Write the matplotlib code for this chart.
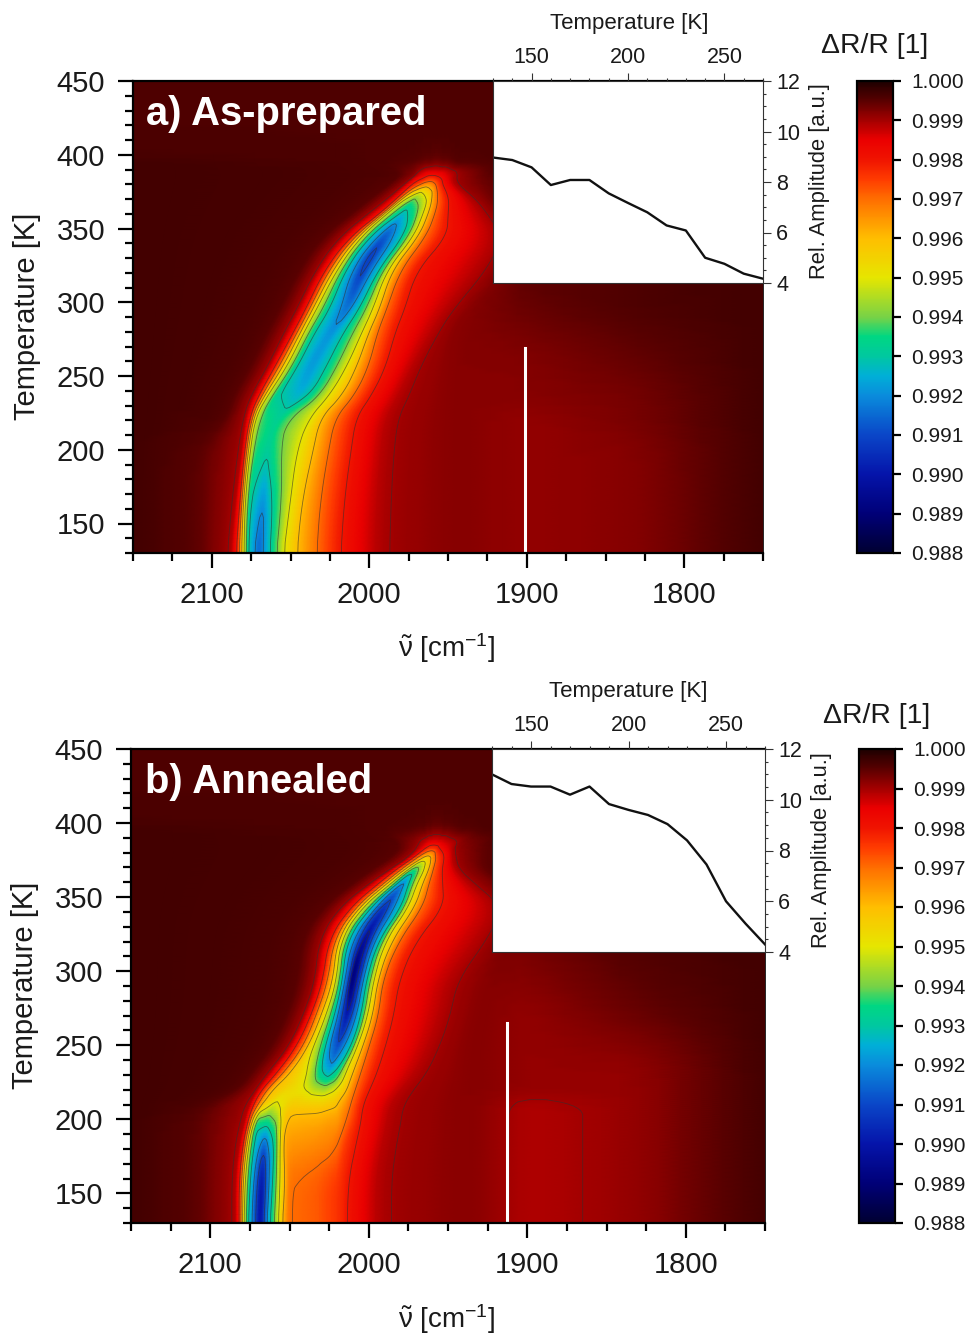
import numpy as np
import matplotlib
matplotlib.use("Agg")
import matplotlib.pyplot as plt
from matplotlib.colors import LinearSegmentedColormap, Normalize
from matplotlib.ticker import MultipleLocator

plt.rcParams["font.family"] = ["Liberation Sans", "DejaVu Sans"]
plt.rcParams["mathtext.fontset"] = "stix"
plt.rcParams["mathtext.default"] = "regular"

# =========================
# 1) Data
# Each row of wn_* holds the wavenumbers of the knots at one temperature,
# the same row of dr_* holds dR/R at those knots (in units of 1e-4)
# =========================
temp_a = [130, 165, 200, 222, 236, 256, 279, 296, 322, 344, 360, 371, 381, 388, 394, 402, 450]
wn_a = [
    [2150, 2110, 2088.4, 2084.2, 2079.5, 2076.8, 2070.4, 2063.0, 2054.6, 2046.0, 2033.4, 2018.6, 1992.0, 1945, 1900, 1830, 1750],
    [2150, 2110, 2085.3, 2082.0, 2079.0, 2075.7, 2067.3, 2061.3, 2050.3, 2043.0, 2031.3, 2016.5, 1991.0, 1945, 1900, 1830, 1750],
    [2150, 2110, 2081.0, 2079.0, 2075.7, 2072.5, 2065.0, 2059.9, 2046.0, 2035.5, 2026.0, 2012.0, 1989.0, 1945, 1900, 1830, 1750],
    [2150, 2093, 2079.0, 2075.7, 2072.5, 2068.3, 2058.8, 2054.6, 2037.6, 2031.3, 2021.8, 2009.0, 1985.8, 1945, 1900, 1830, 1750],
    [2150, 2089, 2074.7, 2070.4, 2065.2, 2058.8, 2044.0, 2037.6, 2026.0, 2017.5, 2010.0, 1999.6, 1978.4, 1945, 1900, 1830, 1750],
    [2150, 2078, 2064.0, 2059.9, 2052.5, 2046.0, 2037.6, 2027.0, 2014.4, 2008.0, 2000.6, 1990.0, 1970.0, 1945, 1900, 1830, 1750],
    [2150, 2068, 2053.5, 2048.2, 2041.9, 2035.5, 2025.0, 2016.5, 2004.8, 2000.6, 1995.3, 1984.7, 1957.0, 1945, 1900, 1830, 1750],
    [2150, 2059, 2045.0, 2039.8, 2033.4, 2025.0, 2013.3, 2005.9, 1997.4, 1993.2, 1989.0, 1978.4, 1946.7, 1935, 1900, 1830, 1750],
    [2150, 2047, 2033.4, 2028.1, 2020.7, 2015.4, 2004.8, 1994.3, 1989.0, 1985.8, 1980.5, 1972.0, 1925.5, 1910, 1900, 1830, 1750],
    [2150, 2033, 2018.6, 2012.3, 2005.9, 2000.6, 1991.0, 1978.4, 1972.0, 1968.9, 1964.6, 1952.0, 1915.0, 1908, 1900, 1830, 1750],
    [2150, 2014, 2000.0, 1993.0, 1989.0, 1983.7, 1978.4, 1971.0, 1965.7, 1962.5, 1958.3, 1950.9, 1925.5, 1912, 1900, 1830, 1750],
    [2150, 2001, 1986.9, 1981.6, 1976.3, 1973.0, 1971.0, 1967.8, 1962.5, 1959.8, 1956.2, 1949.8, 1934.0, 1920, 1900, 1830, 1750],
    [2150, 1988, 1976.3, 1972.0, 1967.0, 1964.0, 1961.0, 1959.0, 1957.5, 1956.0, 1955.0, 1954.0, 1946.6, 1925, 1900, 1830, 1750],
    [2150, 1982, 1970.0, 1966.0, 1964.0, 1962.0, 1960.0, 1958.0, 1956.0, 1954.0, 1952.0, 1949.0, 1944.0, 1925, 1900, 1830, 1750],
    [2150, 1995, 1975.0, 1968.0, 1964.0, 1961.0, 1958.0, 1956.0, 1953.0, 1950.0, 1947.0, 1943.0, 1935.0, 1915, 1900, 1830, 1750],
    [2150, 1995, 1975.0, 1968.0, 1964.0, 1961.0, 1958.0, 1956.0, 1953.0, 1950.0, 1947.0, 1943.0, 1935.0, 1915, 1900, 1830, 1750],
    [2150, 1995, 1975.0, 1968.0, 1964.0, 1961.0, 1958.0, 1956.0, 1953.0, 1950.0, 1947.0, 1943.0, 1935.0, 1915, 1900, 1830, 1750],
]
dr_a = [
    [9997, 9995, 9990, 9980, 9950, 9930, 9913, 9930, 9950, 9960, 9970, 9980, 9990, 9992, 9991, 9992, 9997],
    [9997, 9995, 9990, 9980, 9950, 9930, 9920, 9930, 9950, 9960, 9970, 9980, 9990, 9992, 9991, 9992, 9997],
    [9997, 9995, 9990, 9980, 9950, 9937, 9932, 9937, 9950, 9960, 9970, 9980, 9990, 9992, 9991, 9992, 9997],
    [9997, 9996, 9990, 9980, 9950, 9938, 9933, 9938, 9950, 9960, 9970, 9980, 9990, 9992, 9991, 9993, 9997],
    [9997, 9996, 9990, 9980, 9950, 9930, 9925, 9930, 9950, 9960, 9970, 9980, 9990, 9992, 9992, 9993, 9997],
    [9997, 9996, 9990, 9980, 9950, 9930, 9921, 9930, 9950, 9960, 9970, 9980, 9990, 9992, 9992, 9994, 9997],
    [9997, 9996, 9990, 9980, 9950, 9930, 9921, 9930, 9950, 9960, 9970, 9980, 9990, 9992, 9993, 9995, 9997],
    [9997, 9996, 9990, 9980, 9950, 9930, 9915, 9930, 9950, 9960, 9970, 9980, 9990, 9992, 9994, 9996, 9997],
    [9997, 9996, 9990, 9980, 9950, 9930, 9905, 9930, 9950, 9960, 9970, 9980, 9990, 9993, 9995, 9996, 9997],
    [9997, 9996, 9990, 9980, 9950, 9930, 9908, 9930, 9950, 9960, 9970, 9980, 9990, 9993, 9995, 9996, 9997],
    [9997, 9996, 9990, 9980, 9950, 9935, 9926, 9935, 9950, 9960, 9970, 9980, 9990, 9993, 9995, 9996, 9997],
    [9997, 9996, 9990, 9980, 9950, 9943, 9939, 9943, 9950, 9960, 9970, 9980, 9990, 9994, 9995, 9996, 9997],
    [9997, 9996, 9990, 9980, 9975, 9970, 9968, 9969, 9972, 9975, 9977, 9980, 9990, 9994, 9995, 9996, 9997],
    [9997, 9996, 9992, 9988, 9986, 9985, 9985, 9985, 9985, 9985, 9986, 9988, 9990, 9995, 9995, 9996, 9997],
    [9997, 9996, 9995, 9994, 9993, 9993, 9992, 9992, 9993, 9993, 9994, 9995, 9995, 9996, 9996, 9996, 9997],
    [9996, 9996, 9996, 9996, 9996, 9996, 9996, 9996, 9996, 9996, 9996, 9996, 9996, 9996, 9996, 9996, 9996],
    [9996, 9996, 9996, 9996, 9996, 9996, 9996, 9996, 9996, 9996, 9996, 9996, 9996, 9996, 9996, 9996, 9996],
]

temp_b = [130, 159, 181, 197, 209, 220, 231, 249, 271, 294, 321, 343, 359, 369, 378, 386, 394, 404, 450]
wn_b = [
    [2150, 2110, 2084.4, 2081.6, 2078.7, 2076.0, 2068.6, 2062.3, 2057.0, 2054.5, 2050.3, 2032.9, 2026.6, 2020.2, 2016.0, 2013.9, 1991.9, 1935, 1900, 1830, 1750],
    [2150, 2110, 2084.4, 2081.6, 2078.1, 2074.9, 2067.6, 2060.6, 2056.0, 2052.8, 2049.3, 2032.9, 2026.6, 2020.2, 2016.0, 2012.9, 1991.9, 1935, 1900, 1830, 1750],
    [2150, 2110, 2082.3, 2079.5, 2076.0, 2072.8, 2066.1, 2059.8, 2056.0, 2053.9, 2050.7, 2032.9, 2025.5, 2020.2, 2016.0, 2008.7, 1988.7, 1935, 1900, 1830, 1750],
    [2150, 2110, 2079.1, 2076.6, 2073.2, 2070.3, 2064.4, 2059.2, 2055.4, 2053.5, 2050.7, 2032.9, 2018.1, 2015.0, 2009.7, 2005.5, 1985.5, 1935, 1900, 1830, 1750],
    [2150, 2110, 2076.0, 2073.2, 2070.3, 2067.6, 2061.3, 2056.0, 2052.8, 2049.7, 2045.5, 2030.8, 2021.3, 2016.0, 2011.8, 2004.5, 1983.4, 1935, 1900, 1830, 1750],
    [2150, 2085, 2070.7, 2067.6, 2064.4, 2061.3, 2051.8, 2045.5, 2039.2, 2036.0, 2031.8, 2027.6, 2022.3, 2013.9, 2008.7, 2000.3, 1976.0, 1935, 1900, 1830, 1750],
    [2150, 2077, 2063.4, 2058.1, 2053.9, 2049.7, 2043.4, 2038.1, 2033.9, 2029.7, 2027.6, 2025.5, 2021.3, 2015.0, 2005.5, 1996.0, 1966.6, 1935, 1900, 1830, 1750],
    [2150, 2064, 2049.7, 2045.5, 2041.3, 2038.1, 2035.0, 2030.8, 2027.6, 2024.9, 2022.8, 2019.2, 2010.8, 2007.2, 2000.3, 1990.8, 1957.2, 1935, 1900, 1830, 1750],
    [2150, 2054, 2040.2, 2036.0, 2032.9, 2029.7, 2026.6, 2024.0, 2021.3, 2019.2, 2016.5, 2012.9, 2004.5, 2000.3, 1994.0, 1985.5, 1949.8, 1930, 1900, 1830, 1750],
    [2150, 2047, 2032.9, 2028.7, 2025.5, 2022.3, 2020.2, 2018.1, 2016.5, 2015.0, 2012.9, 2010.8, 2001.7, 1997.1, 1991.9, 1982.4, 1945.6, 1925, 1900, 1830, 1750],
    [2150, 2045, 2030.8, 2025.5, 2022.3, 2020.2, 2018.1, 2016.0, 2013.9, 2010.8, 2007.6, 2003.4, 1994.0, 1989.7, 1981.3, 1971.9, 1925.6, 1910, 1900, 1830, 1750],
    [2150, 2032, 2018.1, 2011.8, 2008.7, 2006.6, 2004.5, 2001.3, 1999.2, 1996.0, 1994.0, 1989.7, 1979.2, 1975.0, 1966.6, 1954.0, 1915.1, 1908, 1900, 1830, 1750],
    [2150, 2013, 1999.2, 1994.0, 1990.8, 1988.7, 1986.2, 1984.1, 1982.4, 1980.7, 1979.2, 1977.8, 1975.0, 1969.8, 1962.4, 1954.0, 1934.0, 1910, 1900, 1830, 1750],
    [2150, 2000, 1985.5, 1982.4, 1979.2, 1977.1, 1975.0, 1973.6, 1972.3, 1971.4, 1970.6, 1969.8, 1968.1, 1964.5, 1959.3, 1954.0, 1944.5, 1925, 1900, 1830, 1750],
    [2150, 1987, 1972.9, 1969.8, 1967.7, 1965.6, 1964.1, 1963.0, 1962.2, 1961.4, 1960.5, 1959.7, 1958.6, 1957.6, 1955.5, 1951.9, 1946.6, 1925, 1900, 1830, 1750],
    [2150, 1982, 1967.7, 1963.5, 1961.4, 1960.3, 1959.7, 1959.3, 1958.6, 1958.2, 1957.6, 1957.2, 1956.1, 1955.0, 1953.0, 1949.8, 1944.5, 1925, 1900, 1830, 1750],
    [2150, 1995, 1975.0, 1968.0, 1965.0, 1963.0, 1961.0, 1959.0, 1958.0, 1956.0, 1954.0, 1952.0, 1949.0, 1945.0, 1940.0, 1935.0, 1925.0, 1912, 1900, 1830, 1750],
    [2150, 1995, 1975.0, 1968.0, 1965.0, 1963.0, 1961.0, 1959.0, 1958.0, 1956.0, 1954.0, 1952.0, 1949.0, 1945.0, 1940.0, 1935.0, 1925.0, 1912, 1900, 1830, 1750],
    [2150, 1995, 1975.0, 1968.0, 1965.0, 1963.0, 1961.0, 1959.0, 1958.0, 1956.0, 1954.0, 1952.0, 1949.0, 1945.0, 1940.0, 1935.0, 1925.0, 1912, 1900, 1830, 1750],
]
dr_b = [
    [9997, 9995, 9990, 9980, 9950, 9930, 9897, 9930, 9950, 9960, 9970, 9972, 9974, 9976, 9978, 9980, 9990, 9992, 9989, 9991, 9997],
    [9997, 9995, 9990, 9980, 9950, 9930, 9897, 9930, 9950, 9960, 9970, 9972, 9974, 9976, 9978, 9980, 9990, 9992, 9989, 9991, 9997],
    [9997, 9995, 9990, 9980, 9950, 9930, 9910, 9930, 9950, 9960, 9965, 9967, 9968, 9970, 9975, 9980, 9990, 9992, 9989, 9991, 9997],
    [9997, 9995, 9990, 9980, 9950, 9930, 9932, 9938, 9950, 9958, 9962, 9963, 9966, 9970, 9976, 9980, 9990, 9992, 9989, 9991, 9997],
    [9997, 9996, 9990, 9980, 9970, 9960, 9948, 9953, 9957, 9958, 9958, 9958, 9960, 9965, 9970, 9980, 9990, 9992, 9989, 9991, 9997],
    [9997, 9996, 9990, 9980, 9970, 9960, 9955, 9953, 9951, 9950, 9947, 9945, 9950, 9960, 9970, 9980, 9990, 9992, 9991, 9991, 9997],
    [9997, 9996, 9990, 9980, 9970, 9960, 9955, 9950, 9940, 9930, 9927, 9925, 9930, 9950, 9970, 9980, 9990, 9992, 9991, 9991, 9997],
    [9997, 9996, 9990, 9980, 9970, 9960, 9950, 9940, 9930, 9920, 9915, 9910, 9930, 9950, 9970, 9980, 9990, 9992, 9991, 9992, 9997],
    [9997, 9996, 9990, 9980, 9970, 9960, 9950, 9940, 9930, 9920, 9910, 9900, 9930, 9950, 9970, 9980, 9990, 9992, 9991, 9994, 9997],
    [9997, 9996, 9990, 9980, 9970, 9960, 9950, 9940, 9930, 9920, 9910, 9885, 9930, 9950, 9970, 9980, 9990, 9992, 9992, 9995, 9997],
    [9997, 9996, 9990, 9980, 9970, 9960, 9950, 9940, 9930, 9920, 9910, 9895, 9930, 9950, 9970, 9980, 9990, 9993, 9993, 9996, 9997],
    [9997, 9996, 9990, 9980, 9970, 9960, 9950, 9940, 9930, 9920, 9910, 9905, 9930, 9950, 9970, 9980, 9990, 9993, 9994, 9996, 9997],
    [9997, 9996, 9990, 9980, 9970, 9960, 9950, 9940, 9930, 9922, 9919, 9918, 9930, 9950, 9970, 9980, 9990, 9995, 9995, 9996, 9997],
    [9997, 9996, 9990, 9980, 9970, 9960, 9950, 9940, 9937, 9936, 9936, 9937, 9940, 9950, 9970, 9980, 9990, 9995, 9995, 9996, 9997],
    [9997, 9996, 9990, 9980, 9970, 9965, 9962, 9961, 9960, 9960, 9961, 9962, 9965, 9970, 9975, 9980, 9990, 9995, 9995, 9996, 9997],
    [9997, 9996, 9990, 9987, 9985, 9984, 9984, 9984, 9984, 9984, 9984, 9984, 9984, 9985, 9986, 9988, 9991, 9995, 9995, 9996, 9997],
    [9997, 9996, 9995, 9994, 9994, 9993, 9993, 9992, 9992, 9992, 9992, 9993, 9993, 9994, 9995, 9995, 9996, 9996, 9996, 9996, 9997],
    [9996, 9996, 9996, 9996, 9996, 9996, 9996, 9996, 9996, 9996, 9996, 9996, 9996, 9996, 9996, 9996, 9996, 9996, 9996, 9996, 9996],
    [9996, 9996, 9996, 9996, 9996, 9996, 9996, 9996, 9996, 9996, 9996, 9996, 9996, 9996, 9996, 9996, 9996, 9996, 9996, 9996, 9996],
]

inset_temp = [130, 140, 150, 160, 170, 180, 190, 200, 210, 220, 230, 240, 250, 260, 270]
amp_a = [8.97, 8.87, 8.58, 7.88, 8.08, 8.08, 7.55, 7.17, 6.80, 6.28, 6.08, 5.00, 4.76, 4.37, 4.17]
amp_b = [11.0, 10.62, 10.52, 10.52, 10.2, 10.52, 9.83, 9.6, 9.4, 9.04, 8.4, 7.45, 6.0, 5.12, 4.3]

white_line_a = (1901, 269)
white_line_b = (1913, 265)

# colour scale of the bars
cbar_vals = [988, 989, 990, 991, 992, 992.5, 993, 993.5, 994, 995, 996, 997, 997.5, 998, 998.5, 999, 999.5, 1000]
cbar_cols = ["#000032", "#000078", "#0514aa", "#0a46c8", "#0a8cdc", "#00afd7", "#00c8a0", "#00d782", "#78d246",
             "#e6e600", "#ffbe00", "#ff6e00", "#ff3c00", "#f01400", "#eb0000", "#a50000", "#5a0000", "#1e0000"]

# =========================
# 2) Figure and layout in pixels
# =========================
W, H = 969, 1334
fig = plt.figure(figsize=(W / 100, H / 100), dpi=100)


def px_axes(left, top, right, bottom):
    return fig.add_axes([left / W, 1 - bottom / H, (right - left) / W, (bottom - top) / H])


def px_text(x, y, s, **kw):
    fig.text(x / W, 1 - y / H, s, ha="center", va="center", color="#1a1a1a", **kw)


def soften(a, row_sub=8, col_sub=6):
    # finer mesh between the knots so the map does not show straight facets
    a = np.asarray(a, dtype=float)
    rows = np.arange(a.shape[0])
    cols = np.arange(a.shape[1])
    fine_r = np.linspace(0, rows[-1], (len(rows) - 1) * row_sub + 1)
    fine_c = np.linspace(0, cols[-1], (len(cols) - 1) * col_sub + 1)
    a = np.array([np.interp(fine_r, rows, a[:, j]) for j in cols]).T
    a = np.array([np.interp(fine_c, cols, line) for line in a])
    box_r = np.ones(row_sub + 1) / (row_sub + 1)
    box_c = np.ones(3) / 3
    a = np.pad(a, ((row_sub // 2, row_sub // 2), (1, 1)), mode="edge")
    a = np.array([np.convolve(a[:, j], box_r, mode="valid") for j in range(a.shape[1])]).T
    a = np.array([np.convolve(line, box_c, mode="valid") for line in a])
    return a


norm = Normalize(0.988, 1.0)
stops = [(v - 988) / 12 for v in cbar_vals]
cmap = LinearSegmentedColormap.from_list("dr", list(zip(stops, cbar_cols)), N=512)
contour_levels = np.arange(989, 1000) / 1000


def draw_panel(temps, wn, dr, amp, line, title, main_box, inset_box, bar_box, title_xy,
               ylabel_x, xlabel_xy, intop_xy, inright_xy, barlabel_xy):
    # main map
    ax = px_axes(*main_box)
    wn_arr = np.array(wn, dtype=float)
    X = soften(wn_arr)
    Y = soften(np.repeat(np.array(temps, dtype=float)[:, None], wn_arr.shape[1], axis=1))
    Z = soften(dr) / 10000
    X[:, 0], X[:, -1] = 2150, 1750
    Y[0, :], Y[-1, :] = 130, 450
    mesh = ax.pcolormesh(X, Y, Z, shading="gouraud", cmap=cmap, norm=norm)
    ax.contour(X, Y, Z, levels=contour_levels, colors="#303030", linewidths=0.6, alpha=0.6)
    ax.plot([line[0], line[0]], [130, line[1]], color="white", lw=2.2)
    ax.set_xlim(2150, 1750)
    ax.set_ylim(130, 450)
    ax.xaxis.set_major_locator(MultipleLocator(100))
    ax.xaxis.set_minor_locator(MultipleLocator(25))
    ax.yaxis.set_major_locator(MultipleLocator(50))
    ax.yaxis.set_minor_locator(MultipleLocator(10))
    ax.tick_params(which="major", length=11, width=1.6, labelsize=21, pad=9, labelcolor="#1a1a1a")
    ax.tick_params(which="minor", length=5.5, width=1.6)
    for name in ["left", "bottom", "top"]:
        ax.spines[name].set_linewidth(1.6)
    ax.spines["right"].set_linewidth(0.6)
    fig.text(title_xy[0] / W, 1 - title_xy[1] / H, title, color="white", fontsize=28.8,
             fontweight="bold", ha="left", va="center")
    px_text(ylabel_x, (main_box[1] + main_box[3]) / 2 - 1, "Temperature [K]", fontsize=21, rotation=90)
    px_text(xlabel_xy[0], xlabel_xy[1], r"$\tilde{\nu}$ [cm$^{-1}$]", fontsize=20)

    # inset with the amplitude curve
    inset = px_axes(*inset_box)
    inset.set_facecolor("white")
    inset.plot(inset_temp, amp, color="#111111", lw=1.7)
    inset.set_xlim(130, 270)
    inset.set_ylim(4, 12)
    inset.xaxis.tick_top()
    inset.yaxis.tick_right()
    inset.xaxis.set_major_locator(MultipleLocator(50))
    inset.xaxis.set_minor_locator(MultipleLocator(10))
    inset.yaxis.set_major_locator(MultipleLocator(2))
    inset.yaxis.set_minor_locator(MultipleLocator(0.5))
    inset.tick_params(which="major", length=5.5, width=0.8, labelsize=15.5, pad=4, color="#333333", labelcolor="#1a1a1a")
    inset.tick_params(which="minor", length=2.5, width=0.8, color="#333333")
    for s in inset.spines.values():
        s.set_linewidth(0.8)
        s.set_color("#333333")
    px_text(intop_xy[0], intop_xy[1], "Temperature [K]", fontsize=16)
    px_text(inright_xy[0], inright_xy[1], "Rel. Amplitude [a.u.]", fontsize=15.8, rotation=90)

    # colour bar
    cax = px_axes(*bar_box)
    cb = fig.colorbar(mesh, cax=cax, ticks=np.arange(988, 1001) / 1000, format="%.3f")
    cb.outline.set_linewidth(1.6)
    cb.ax.tick_params(length=6, width=1.6, labelsize=15, pad=7, labelcolor="#1a1a1a")
    px_text(barlabel_xy[0], barlabel_xy[1], "\u0394R/R [1]", fontsize=20.4)


# =========================
# 3) Draw both panels
# =========================
draw_panel(temp_a, wn_a, dr_a, amp_a, white_line_a, "a) As-prepared",
           (133, 81, 763, 553), (493, 81, 763, 283), (857, 81, 893, 553), (146, 114),
           27, (447, 648), (629, 24), (819, 181), (875, 46))
draw_panel(temp_b, wn_b, dr_b, amp_b, white_line_b, "b) Annealed",
           (131, 749, 765, 1223), (492, 749, 765, 952), (859, 749, 895, 1223), (145, 782),
           25, (447, 1319), (628, 691), (821, 850), (877, 716))

fig.savefig("out.png", dpi=100)
